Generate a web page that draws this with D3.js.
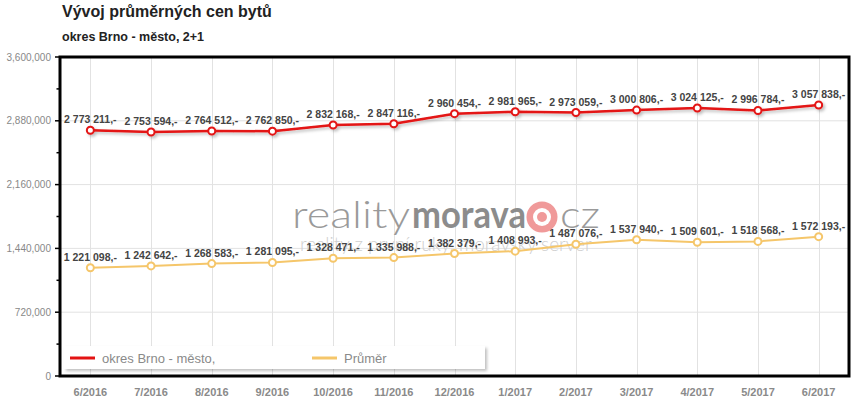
<!DOCTYPE html>
<html><head><meta charset="utf-8">
<script src="https://cdn.jsdelivr.net/npm/d3@7/dist/d3.min.js"></script>
<style>
body{margin:0;background:#fff;}
svg{display:block;font-family:Arial,"Liberation Sans",sans-serif;}
</style></head>
<body><svg id="c" width="857" height="411"></svg>
<script>
const categories = ["6/2016","7/2016","8/2016","9/2016","10/2016","11/2016","12/2016","1/2017","2/2017","3/2017","4/2017","5/2017","6/2017"];
const brnoValues = [2773211,2753594,2764512,2762850,2832168,2847116,2960454,2981965,2973059,3000806,3024125,2996784,3057838];
const prumerValues = [1221098,1242642,1268583,1281095,1328471,1335988,1382379,1408993,1487076,1537940,1509601,1518568,1572193];
const yTicks = [0,720000,1440000,2160000,2880000,3600000];
const yMinorTicks = [360000,1080000,1800000,2520000,3240000];
const seriesNames = ["okres Brno - město,","Průměr"];
const titleText = "Vývoj průměrných cen bytů";
const subtitleText = "okres Brno - město, 2+1";

const svg = d3.select("#c");
const L = 60, R = 849, T = 57, B = 376;
const x = d3.scaleBand().domain(categories).range([L, R]).paddingInner(0).paddingOuter(0);
const cx = d => x(d) + x.bandwidth()/2;
const y = d3.scaleLinear().domain([0, 3600000]).range([B, T]);

const defs = svg.append("defs");
const f = defs.append("filter").attr("id","sh").attr("x","-10%").attr("y","-10%").attr("width","130%").attr("height","150%");
f.append("feDropShadow").attr("dx",2).attr("dy",2).attr("stdDeviation",1.5).attr("flood-color","#000").attr("flood-opacity",0.25);

// title
svg.append("text").attr("x",62).attr("y",17).attr("font-size",16).attr("font-weight","bold").attr("fill","#222").text(titleText);
svg.append("text").attr("x",62).attr("y",41).attr("font-size",12.5).attr("font-weight","bold").attr("fill","#222").text(subtitleText);

// grid
const g = svg.append("g");
g.selectAll(".hg").data(yTicks).join("line").attr("x1",L).attr("x2",R).attr("y1",d=>y(d)).attr("y2",d=>y(d)).attr("stroke","#e2e2e2").attr("stroke-width",1);
g.selectAll(".vg").data(categories).join("line").attr("x1",d=>Math.round(cx(d))+0.5).attr("x2",d=>Math.round(cx(d))+0.5).attr("y1",T).attr("y2",B).attr("stroke","#e2e2e2").attr("stroke-width",1);

// watermark
const wm = svg.append("g");
wm.append("text").attr("x",292).attr("y",228).attr("font-size",38).attr("font-weight","300").attr("font-family","Lato, Arial, sans-serif").attr("fill","#9a9a9a")
  .attr("textLength",118).attr("lengthAdjust","spacingAndGlyphs").text("reality");
wm.append("text").attr("x",412).attr("y",228).attr("font-size",38).attr("font-weight","bold").attr("font-family","Lato, Arial, sans-serif").attr("fill","#8c8c8c")
  .attr("textLength",114).attr("lengthAdjust","spacingAndGlyphs").text("morava");
wm.append("circle").attr("cx",542).attr("cy",217).attr("r",15.5).attr("fill","#f09a9a");
wm.append("circle").attr("cx",542).attr("cy",217).attr("r",9).attr("fill","#fff");
wm.append("circle").attr("cx",542).attr("cy",217).attr("r",5).attr("fill","#f09a9a");
wm.append("text").attr("x",560).attr("y",228).attr("font-size",38).attr("font-weight","300").attr("font-family","Lato, Arial, sans-serif").attr("fill","#9a9a9a")
  .attr("textLength",40).attr("lengthAdjust","spacingAndGlyphs").text("cz");
wm.append("text").attr("x",300).attr("y",251).attr("font-size",19).attr("font-weight","300").attr("font-family","Lato, Arial, sans-serif").attr("fill","#cfcfcf").text("reality z první ruky, moravský server");

// axes ticks
const ax = svg.append("g");
ax.selectAll(".mt").data(yTicks).join("line").attr("x1",L-5).attr("x2",L).attr("y1",d=>y(d)).attr("y2",d=>y(d)).attr("stroke","#000").attr("stroke-width",1.5);
ax.selectAll(".mn").data(yMinorTicks).join("line").attr("x1",L-3.5).attr("x2",L).attr("y1",d=>y(d)).attr("y2",d=>y(d)).attr("stroke","#000").attr("stroke-width",1.5);
const fmtY = d3.format(",");
ax.selectAll(".yl").data(yTicks).join("text").attr("x",51).attr("y",d=>y(d)+3.5).attr("text-anchor","end").attr("font-size",10).attr("fill","#888").text(d=>fmtY(d));
ax.selectAll(".xl").data(categories).join("text").attr("x",d=>cx(d)).attr("y",396).attr("text-anchor","middle").attr("font-size",11).attr("font-weight","bold").attr("fill","#8a8a8a").text(d=>d);

// series
const fmtL = v => d3.format(",")(v).replace(/,/g," ") + ",-";
const series = [
  {vals: prumerValues, color:"#f5c66a", w:2, shadow:false},
  {vals: brnoValues, color:"#e31313", w:2.5, shadow:true}
];
const line = d3.line().x((d,i)=>cx(categories[i])).y(d=>y(d));
series.forEach(s=>{
  const sg = svg.append("g");
  if (s.shadow) sg.attr("filter","url(#sh)");
  sg.append("path").datum(s.vals).attr("d",line).attr("fill","none").attr("stroke",s.color).attr("stroke-width",s.w).attr("stroke-linejoin","round");
  sg.selectAll("circle").data(s.vals).join("circle").attr("cx",(d,i)=>cx(categories[i])).attr("cy",d=>y(d)).attr("r",3.5).attr("fill","#fff").attr("stroke",s.color).attr("stroke-width",2);
});
series.forEach(s=>{
  svg.append("g").selectAll("text").data(s.vals).join("text")
    .attr("x",(d,i)=>cx(categories[i])).attr("y",d=>y(d)-7).attr("text-anchor","middle")
    .attr("font-size",10.5).attr("font-weight","bold").attr("fill","#444").text(d=>fmtL(d));
});

// border
svg.append("rect").attr("x",L).attr("y",T).attr("width",R-L).attr("height",B-T).attr("fill","none").attr("stroke","#000").attr("stroke-width",3);

// legend
const lg = svg.append("g");
lg.append("rect").attr("x",64).attr("y",346).attr("width",421).attr("height",23).attr("fill","#fff").attr("filter","url(#sh)");
const legendColors = ["#e31313","#f5c66a"];
const legX = [70, 312];
seriesNames.forEach((n,i)=>{
  lg.append("line").attr("x1",legX[i]).attr("x2",legX[i]+25).attr("y1",358).attr("y2",358).attr("stroke",legendColors[i]).attr("stroke-width",3);
  lg.append("text").attr("x",legX[i]+32).attr("y",362.5).attr("font-size",13).attr("fill","#8a8a8a").text(n);
});
</script></body></html>
